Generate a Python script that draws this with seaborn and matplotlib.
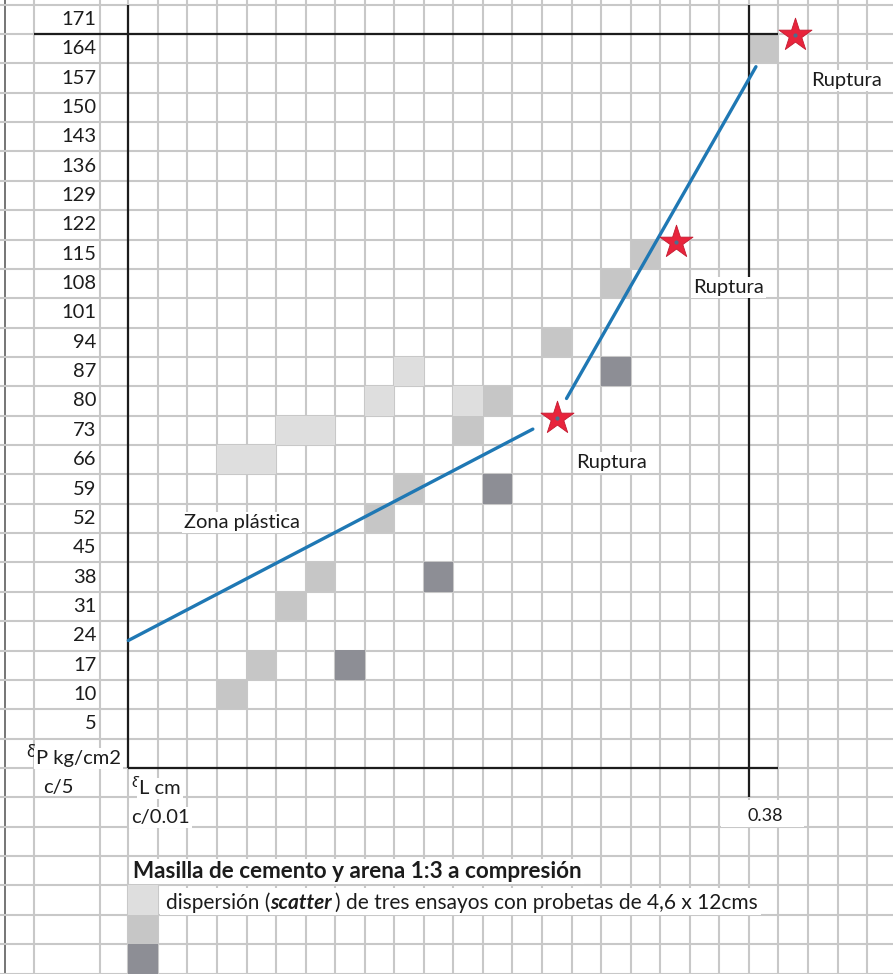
import matplotlib
matplotlib.use("Agg")
import matplotlib.pyplot as plt
import matplotlib.transforms as mtransforms
from matplotlib.patches import Rectangle
import pandas as pd
import seaborn as sns

# ---------------------------------------------------------------- data
# load labels of the grid rows (kg/cm2), from row 1 (just above the axis) upwards
y_tick_labels = ["5", "10", "17", "24", "31", "38", "45", "52", "59", "66", "73",
                 "80", "87", "94", "101", "108", "115", "122", "129", "136",
                 "143", "150", "157", "164", "171"]
x_end_label = "0.38"
x_end_col = 21            # grid column where the deformation scale closes

# scatter cells of the three tests: grid column (c/0.01) and load (kg/cm2)
ensayo1_col = [3, 4, 5, 6, 8, 9, 11]
ensayo1_load = [66, 66, 73, 73, 80, 87, 80]
ensayo2_col = [3, 4, 5, 6, 8, 9, 11, 12, 14, 16, 17, 21]
ensayo2_load = [10, 17, 31, 38, 52, 59, 73, 80, 94, 108, 115, 164]
ensayo3_col = [7, 10, 12, 16]
ensayo3_load = [17, 38, 59, 87]

# fitted trend segments (grid columns, kg/cm2)
plastic_x = [0.0, 13.69]
plastic_load = [22.9, 73.3]
elastic_x = [14.83, 21.24]
elastic_load = [80.6, 159.7]

# rupture points
rupture_x = [14.52, 18.53, 22.56]
rupture_load = [75.9, 118.0, 167.3]

# ---------------------------------------------------------------- layout
W, H = 893, 974
COL_W, ROW_H = 29.55, 29.36          # grid pitch in pixels
X0_PX, Y0_PX = 128.3, 768.0          # pixel position of the axes origin
KG_PER_ROW = 7.0
LOAD_AT_AXIS = -7.5                  # load value at the lower edge of row 0


def px_to_x(px):
    return (px - X0_PX) / COL_W


def py_to_load(py):
    return LOAD_AT_AXIS + KG_PER_ROW * (Y0_PX - py) / ROW_H


def row_center(r):
    return LOAD_AT_AXIS + KG_PER_ROW * (r + 0.5)


def row_edge(r):
    return LOAD_AT_AXIS + KG_PER_ROW * r


sns.set_style("white")
plt.rcParams["font.family"] = ["Lato", "DejaVu Sans"]

fig = plt.figure(figsize=(W / 100, H / 100), dpi=100)
ax = fig.add_axes([0, 0, 1, 1])
ax.set_xlim(px_to_x(0), px_to_x(W))
ax.set_ylim(py_to_load(H), py_to_load(0))
ax.axis("off")

# pixel transform measured from the top-left corner, for text placement
PX = mtransforms.Affine2D().scale(1, -1).translate(0, H)

GRID = "#c8c8c8"
INK = "#1c1c1c"
BLUE = "#1f78b4"

# ---------------------------------------------------------------- grid paper
y_lo, y_hi = ax.get_ylim()
x_lo, x_hi = ax.get_xlim()
v_lines = [px_to_x(34), px_to_x(100)] + list(range(0, 27))
ax.vlines(v_lines, y_lo, y_hi, color=GRID, lw=1.5, zorder=1)
ax.vlines([px_to_x(5)], y_lo, y_hi, color="#6a6a6a", lw=1.3, zorder=1)
ax.hlines([row_edge(k) for k in range(-7, 27)], x_lo, x_hi, color=GRID, lw=1.5, zorder=1)

# ---------------------------------------------------------------- scatter cells
shades = {"Ensayo 1": "#dedede", "Ensayo 2": "#c6c6c6", "Ensayo 3": "#8d8e95"}
cells = pd.concat([
    pd.DataFrame({"col": ensayo1_col, "load": ensayo1_load, "ensayo": "Ensayo 1"}),
    pd.DataFrame({"col": ensayo2_col, "load": ensayo2_load, "ensayo": "Ensayo 2"}),
    pd.DataFrame({"col": ensayo3_col, "load": ensayo3_load, "ensayo": "Ensayo 3"}),
], ignore_index=True)
cells["x"] = cells["col"] + 0.5
cell_side_pt = COL_W * 72 / 100
sns.scatterplot(data=cells, x="x", y="load", hue="ensayo", palette=shades,
                marker="s", s=cell_side_pt ** 2, linewidth=0, legend=False,
                ax=ax, zorder=2)

# legend keys: one cell per test, stacked below the caption
keys = pd.DataFrame({"x": [0.5, 0.5, 0.5],
                     "load": [row_center(-5), row_center(-6), row_center(-7)],
                     "ensayo": list(shades)})
sns.scatterplot(data=keys, x="x", y="load", hue="ensayo", palette=shades,
                marker="s", s=cell_side_pt ** 2, linewidth=0, legend=False,
                ax=ax, zorder=2)

# ---------------------------------------------------------------- axes frame
ax.vlines(0, row_edge(0), row_edge(26), color=INK, lw=1.6, zorder=4)
ax.vlines(x_end_col, row_edge(-1), row_edge(26), color=INK, lw=1.6, zorder=4)
ax.hlines(row_edge(0), 0, x_end_col + 1, color=INK, lw=1.6, zorder=4)
ax.hlines(row_edge(25), px_to_x(34), x_end_col + 1, color=INK, lw=1.6, zorder=4)

# ---------------------------------------------------------------- trend lines
sns.lineplot(x=plastic_x, y=plastic_load, color=BLUE, lw=2.4, ax=ax, zorder=5)
sns.lineplot(x=elastic_x, y=elastic_load, color=BLUE, lw=2.4, ax=ax, zorder=5)

# rupture stars
sns.scatterplot(x=rupture_x, y=rupture_load, marker="*", s=25 ** 2,
                color="#e8243c", edgecolor="#c41a30", linewidth=0.6,
                ax=ax, zorder=6)
sns.scatterplot(x=rupture_x, y=rupture_load, marker="o", s=9,
                color="#4c6f8e", linewidth=0, ax=ax, zorder=7)

# ---------------------------------------------------------------- texts
WHITE = dict(facecolor="white", edgecolor="none", pad=1.5)
FS = 14.5

y_text = mtransforms.blended_transform_factory(PX, ax.transData)
for r, lab in enumerate(y_tick_labels, start=1):
    ax.text(96.5, row_center(r), lab, transform=y_text, ha="right",
            va="center", fontsize=FS, color=INK, zorder=8)


def label(x, y, s, **kw):
    opts = dict(transform=PX, ha="left", va="baseline", fontsize=FS,
                color=INK, zorder=8)
    opts.update(kw)
    return ax.text(x, y, s, **opts)


label(26, 757, "δ", fontsize=12.5)
label(36, 764, "P kg/cm2", bbox=WHITE)
label(43, 793, "c/5")
label(131, 787, "δ", fontsize=11.5)
label(139, 794, "L cm", bbox=WHITE)
label(131, 823, "c/0.01", bbox=WHITE)

ax.add_patch(Rectangle((721, 799.5), 83, 27.5, transform=PX,
                       facecolor="white", edgecolor="none", zorder=7))
label(765, 821, x_end_label, ha="center", fontsize=13)

label(576, 468, "Ruptura", bbox=WHITE)
label(693, 293, "Ruptura", bbox=WHITE)
label(811, 86, "Ruptura", bbox=WHITE)
label(184, 528, "Zona plástica", bbox=WHITE)

label(133, 878, "Masilla de cemento y arena 1:3 a compresión",
      fontweight="bold", fontsize=16.2, bbox=WHITE)

# caption of the legend keys, with the bold-italic word set in between
CAP = 15
part1 = label(166, 909, "dispersión (", fontsize=CAP)
part2 = ax.annotate("scatter", xy=(1, 0), xycoords=part1, ha="left",
                    va="bottom", fontsize=CAP, fontweight="bold",
                    fontstyle="italic", color=INK, zorder=8)
part3 = ax.annotate(") de tres ensayos con probetas de 4,6 x 12cms", xy=(1, 0),
                    xycoords=part2, xytext=(2, 0), textcoords="offset points",
                    ha="left", va="bottom", fontsize=CAP, color=INK, zorder=8)
fig.canvas.draw()
right_px = part3.get_window_extent().x1 + 3
ax.add_patch(Rectangle((159.5, 887.5), right_px - 159.5, 27.5, transform=PX,
                       facecolor="white", edgecolor="none", zorder=7))

fig.savefig("out.png", dpi=100)
